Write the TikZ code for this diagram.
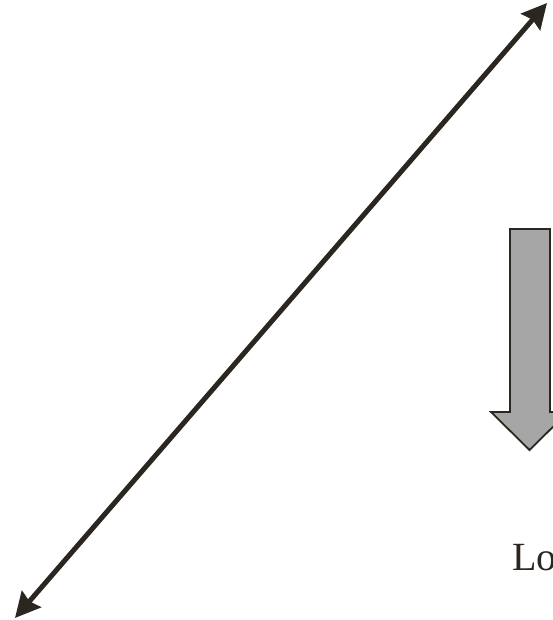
\documentclass[tikz,border=0pt]{standalone}
\usepackage{fontspec}
\setmainfont{Liberation Serif}
\usetikzlibrary{arrows.meta}
\definecolor{ink}{HTML}{2B2620}
\definecolor{blockfill}{HTML}{A6A6A6}
\tikzset{
  diag/.style={line width=5pt, draw=ink, {Stealth[length=25pt,width=25pt,inset=3pt]}-{Stealth[length=25pt,width=25pt,inset=3pt]}},
  blockarrow/.style={fill=blockfill, draw=ink, line width=1.8pt, line join=miter},
  lbl/.style={text=ink, inner sep=0pt, anchor=base west, font=\fontsize{40pt}{48pt}\selectfont}
}
\begin{document}
\begin{tikzpicture}[x=1pt,y=1pt]
\useasboundingbox (0,0) rectangle (552,620);
\coordinate (lowend) at (15,2);
\coordinate (highend) at (547,617);
\draw[diag] (lowend) -- (highend);
\draw[blockarrow] (510,391) -- (550,391) -- (550,208) -- (568,208) -- (529.5,170) -- (491,208) -- (510,208) -- cycle;
\node[lbl] (low) at (512,49) {Lo};
\end{tikzpicture}
\end{document}
